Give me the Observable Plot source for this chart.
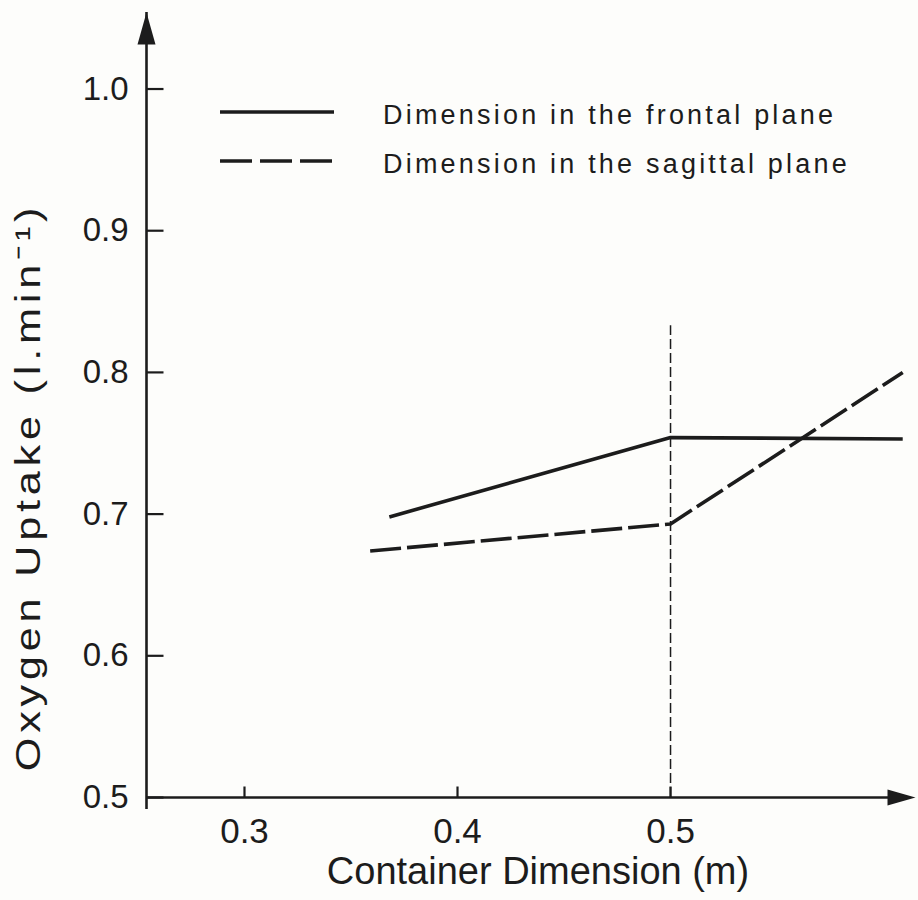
<!DOCTYPE html>
<html>
<head>
<meta charset="utf-8">
<script src="https://cdn.jsdelivr.net/npm/d3@7"></script>
<script src="https://cdn.jsdelivr.net/npm/@observablehq/plot@0.6"></script>
<style>
  body { margin: 0; background: #fdfdfb; }
  #chart { position: relative; width: 918px; height: 900px; }
  #chart svg { display: block; }
  .legend { position: absolute; left: 220px; top: 87px; font-family: "Liberation Sans", Arial, sans-serif;
            font-size: 27px; letter-spacing: 3.2px; color: #1c1c1c; }
  .legend .row { display: flex; align-items: center; height: 49px; }
  .legend .row span { position: relative; top: 4px; }
  .legend svg { width: 114px; height: 10px; margin-right: 49px; }
</style>
</head>
<body>
<div id="chart"></div>
<script>
// Oxygen uptake vs container dimension, two series
const frontalX = [0.368, 0.5, 0.609];
const frontalY = [0.698, 0.754, 0.753];
const sagittalX = [0.359, 0.5, 0.609];
const sagittalY = [0.674, 0.693, 0.800];
const seriesNames = ["Dimension in the frontal plane", "Dimension in the sagittal plane"];

// vertical reference line at 0.5 m
const markerX = [0.5];
const markerTop = [0.833];

const xTicks = [0.3, 0.4, 0.5];
const yTicks = [0.5, 0.6, 0.7, 0.8, 0.9, 1.0];
const xDomain = [0.254, 0.615];
const yDomain = [0.5, 1.054];
const xTitle = "Container Dimension (m)";
const yTitle = "Oxygen Uptake (l.min\u207B\u00B9)";

const ink = "#1c1c1c";
const font = '"Liberation Sans", Arial, sans-serif';

const frontal = frontalX.map((x, i) => ({x, y: frontalY[i]}));
const sagittal = sagittalX.map((x, i) => ({x, y: sagittalY[i]}));
const xMin = xDomain[0], xMax = xDomain[1], yMin = yDomain[0], yMax = yDomain[1];

// filled arrowheads and inward tick strokes as custom symbols
const arrowUp = {draw(c) { c.moveTo(0, 0); c.lineTo(-9, 32); c.lineTo(9, 32); c.closePath(); }};
const arrowRight = {draw(c) { c.moveTo(0, 0); c.lineTo(-28, -8); c.lineTo(-28, 8); c.closePath(); }};
const tickRight = {draw(c) { c.moveTo(0, 0); c.lineTo(17, 0); }};
const tickUp = {draw(c) { c.moveTo(0, 0); c.lineTo(0, -11); }};

const plot = Plot.plot({
  width: 918,
  height: 900,
  marginLeft: 146,
  marginRight: 3,
  marginTop: 12,
  marginBottom: 103,
  style: {background: "transparent", color: ink, fontFamily: font},
  x: {domain: xDomain, axis: null},
  y: {domain: yDomain, axis: null},
  marks: [
    // axes
    Plot.ruleY([yMin], {x1: xMin, x2: xMax, stroke: ink, strokeWidth: 2.6, insetRight: 12}),
    Plot.ruleX([xMin], {y1: yMin, y2: yMax, stroke: ink, strokeWidth: 2.6, insetTop: 12}),
    Plot.dot([0], {x: xMin, y: yMax, symbol: arrowUp, fill: ink, stroke: "none"}),
    Plot.dot([0], {x: xMax, y: yMin, symbol: arrowRight, fill: ink, stroke: "none"}),
    Plot.dot(yTicks, {x: xMin, y: d => d, symbol: tickRight, fill: "none", stroke: ink, strokeWidth: 2.2}),
    Plot.dot(xTicks, {x: d => d, y: yMin, symbol: tickUp, fill: "none", stroke: ink, strokeWidth: 2.2}),
    // tick labels
    Plot.text(yTicks, {x: xMin, y: d => d, text: d => d.toFixed(1), textAnchor: "end", dx: -18,
      fontSize: 33, fill: ink, fontFamily: font}),
    Plot.text(xTicks, {x: d => d, y: yMin, text: d => d.toFixed(1), dy: 34, lineAnchor: "middle",
      fontSize: 35, fill: ink, fontFamily: font}),
    // axis titles
    Plot.text([xTitle], {frameAnchor: "bottom", text: d => d, dx: 7, dy: 74, lineAnchor: "middle",
      fontSize: 38, fill: ink, fontFamily: font}),
    Plot.text([yTitle], {frameAnchor: "left", text: d => d, rotate: -90, dx: -118, dy: 82,
      textAnchor: "middle", lineAnchor: "middle", fontSize: 36, fill: ink, fontFamily: font}),
    // reference line
    Plot.ruleX(markerX, {y1: yMin, y2: markerTop, stroke: ink, strokeWidth: 1.5, strokeDasharray: "10,4"}),
    // data
    Plot.line(frontal, {x: "x", y: "y", stroke: ink, strokeWidth: 3.6, strokeLinecap: "butt"}),
    Plot.line(sagittal, {x: "x", y: "y", stroke: ink, strokeWidth: 3.6, strokeLinecap: "butt",
      strokeDasharray: "31,6"})
  ]
});

// the rotated y-axis title is set slightly elongated and loosely spaced
d3.select(plot).selectAll("text")
  .filter(function() { return this.textContent === yTitle; })
  .style("letter-spacing", "4px")
  .attr("transform", function() { return (this.getAttribute("transform") || "") + " scale(1.2,1)"; });

const chart = document.getElementById("chart");
chart.appendChild(plot);

// key for the two line styles
const legend = document.createElement("div");
legend.className = "legend";
const dashes = [null, "32,8"];
seriesNames.forEach((name, i) => {
  const row = document.createElement("div");
  row.className = "row";
  const dash = dashes[i] ? ` stroke-dasharray="${dashes[i]}"` : "";
  row.innerHTML = `<svg viewBox="0 0 114 10"><line x1="0" y1="5" x2="114" y2="5" stroke="${ink}" stroke-width="3.4"${dash}/></svg><span>${name}</span>`;
  legend.appendChild(row);
});
chart.appendChild(legend);
</script>
</body>
</html>
